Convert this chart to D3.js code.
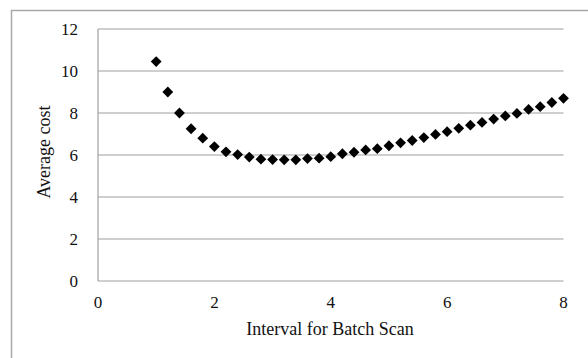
<!DOCTYPE html>
<html>
<head>
<meta charset="utf-8">
<script src="https://cdn.jsdelivr.net/npm/d3@7"></script>
<style>
  body { margin: 0; background: #fff; }
  text { font-family: "Liberation Serif", "Times New Roman", serif; fill: #111; }
</style>
</head>
<body>
<script>
var width = 588, height = 358;

// interval for batch scan, and the average cost
var intervals = [1.0, 1.2, 1.4, 1.6, 1.8, 2.0, 2.2, 2.4, 2.6, 2.8,
                 3.0, 3.2, 3.4, 3.6, 3.8, 4.0, 4.2, 4.4, 4.6, 4.8,
                 5.0, 5.2, 5.4, 5.6, 5.8, 6.0, 6.2, 6.4, 6.6, 6.8,
                 7.0, 7.2, 7.4, 7.6, 7.8, 8.0];
var avgCost = [10.45, 9.0, 8.0, 7.25, 6.8, 6.4, 6.15, 6.02, 5.9, 5.8,
               5.78, 5.77, 5.77, 5.83, 5.85, 5.92, 6.06, 6.13, 6.24, 6.3,
               6.44, 6.58, 6.69, 6.83, 6.98, 7.11, 7.27, 7.42, 7.55, 7.71,
               7.86, 7.98, 8.17, 8.3, 8.5, 8.7];
var xTicks = [0, 2, 4, 6, 8];
var yTicks = [0, 2, 4, 6, 8, 10, 12];

var svg = d3.select("body")
    .append("svg")
    .attr("width", width)
    .attr("height", height);

// outer chart frame (runs off the right and bottom edges)
svg.append("rect")
    .attr("x", 11.5).attr("y", 10.5)
    .attr("width", 600).attr("height", 400)
    .attr("fill", "none")
    .attr("stroke", "#a8a8a8")
    .attr("stroke-width", 1.5);

var x = d3.scaleLinear().domain([0, 8]).range([98, 563.5]);
var y = d3.scaleLinear().domain([0, 12]).range([281, 29]);

var g = svg.append("g");

// horizontal grid lines
g.selectAll("line.grid")
    .data(yTicks)
    .enter()
    .append("line")
    .attr("class", "grid")
    .attr("x1", x(0)).attr("x2", x(8))
    .attr("y1", function(d) { return y(d); })
    .attr("y2", function(d) { return y(d); })
    .attr("stroke", "#a0a0a0")
    .attr("stroke-width", 1.2);

// vertical axis line
g.append("line")
    .attr("x1", x(0)).attr("x2", x(0))
    .attr("y1", y(0)).attr("y2", y(12))
    .attr("stroke", "#a0a0a0")
    .attr("stroke-width", 1.2);

// tick labels
g.selectAll("text.ylab")
    .data(yTicks)
    .enter()
    .append("text")
    .attr("class", "ylab")
    .attr("x", 78)
    .attr("y", function(d) { return y(d) + 6; })
    .attr("text-anchor", "end")
    .style("font-size", "17px")
    .text(function(d) { return d; });

g.selectAll("text.xlab")
    .data(xTicks)
    .enter()
    .append("text")
    .attr("class", "xlab")
    .attr("x", function(d) { return x(d); })
    .attr("y", 308)
    .attr("text-anchor", "middle")
    .style("font-size", "17px")
    .text(function(d) { return d; });

// axis titles
svg.append("text")
    .attr("x", 330).attr("y", 335)
    .attr("text-anchor", "middle")
    .style("font-size", "18px")
    .text("Interval for Batch Scan");

svg.append("text")
    .attr("transform", "translate(50,152) rotate(-90)")
    .attr("text-anchor", "middle")
    .style("font-size", "18px")
    .text("Average cost");

// diamond markers
var r = 5.4;
g.selectAll("path.pt")
    .data(intervals)
    .enter()
    .append("path")
    .attr("class", "pt")
    .attr("d", "M0," + (-r) + "L" + r + ",0L0," + r + "L" + (-r) + ",0Z")
    .attr("transform", function(d, i) {
        return "translate(" + x(d) + "," + y(avgCost[i]) + ")";
    })
    .attr("fill", "#000");
</script>
</body>
</html>
